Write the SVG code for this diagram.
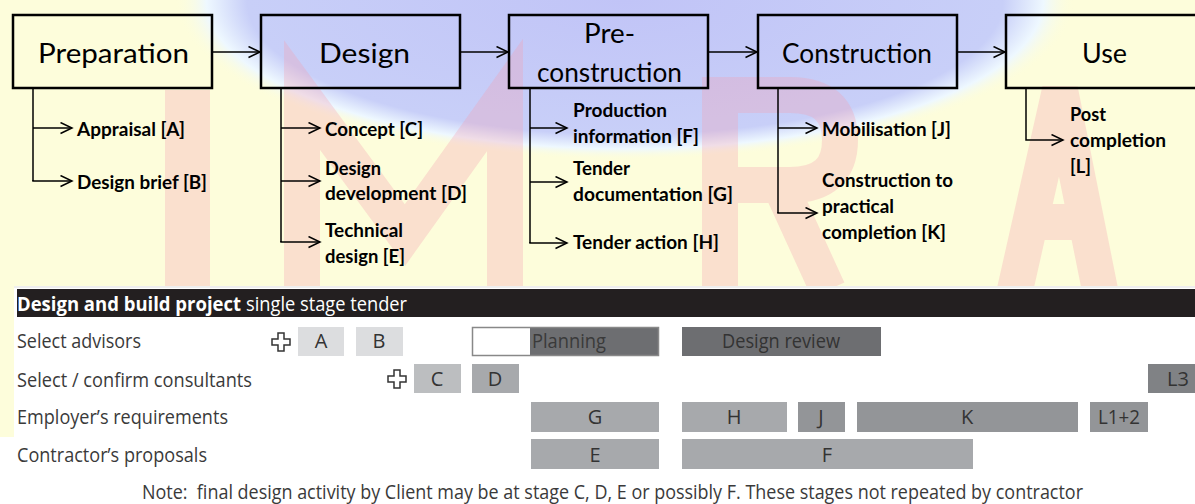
<svg xmlns="http://www.w3.org/2000/svg" width="1195" height="504" viewBox="0 0 1195 504">
<defs>
<radialGradient id="blue" cx="0.5" cy="0.5" r="0.5">
<stop offset="0" stop-color="#c1c4f7"/>
<stop offset="0.84" stop-color="#c8cff8"/>
<stop offset="0.93" stop-color="#eef8ff"/>
<stop offset="1" stop-color="#fdfddb" stop-opacity="0"/>
</radialGradient>
<marker id="ah" markerUnits="userSpaceOnUse" markerWidth="14" markerHeight="14" refX="12" refY="6" orient="auto">
<path d="M0.5,0.5 L12,6 L0.5,11.5" fill="none" stroke="#000" stroke-width="1.5"/>
</marker>
<style>
.stage{fill:none;stroke:#000;stroke-width:2.5}
.title{font-family:Lato,"Open Sans",sans-serif;font-size:27px;fill:#000}
.sub{font-family:Lato,"Open Sans",sans-serif;font-size:18px;font-weight:bold;fill:#000}
.link{fill:none;stroke:#000;stroke-width:1.5}
.arrow{fill:none;stroke:#000;stroke-width:1.5;marker-end:url(#ah)}
.wm{fill:none;stroke:#f4a0b0;stroke-opacity:0.3;stroke-width:36}
.lbl{font-family:"Open Sans","Noto Sans",sans-serif;font-size:20px;fill:#3a3a3a}
.cell{font-family:"Open Sans","Noto Sans",sans-serif;font-size:20px;fill:#333;text-anchor:middle}
.c1{fill:#dcdddf}
.c2{fill:#bcbec0}
.c3{fill:#a7a9ac}
.c4{fill:#939598}
.c5{fill:#6d6e71}
.c6{fill:#808285}
.plus{fill:#fff;stroke:#333;stroke-width:1.5}
</style>
</defs>

<g id="background">
<rect x="0" y="0" width="1195" height="504" fill="#fdfddb"/>
<ellipse cx="625" cy="0" rx="450" ry="160" fill="url(#blue)"/>
<rect x="165" y="90" width="45" height="200" fill="#f4a0b0" fill-opacity="0.3"/>
<path class="wm" d="M302 290 L302 95 L405 235 L505 95 L505 290"/>
<path class="wm" d="M720 290 L720 95 L790 95 Q840 95 840 140 Q840 185 790 185 L720 185 M780 185 L828 290"/>
<path class="wm" d="M1015 290 L1060 90 L1100 290 M1030 222 L1090 222"/>
<rect x="14" y="286" width="1181" height="218" fill="#fff"/>
<rect x="0" y="437" width="14" height="67" fill="#fff"/>
<line x1="14" y1="287" x2="1195" y2="287" stroke="#ddd" stroke-width="1"/>
</g>

<g id="connectors">
<line class="arrow" x1="213" y1="52" x2="260" y2="52"/>
<line class="arrow" x1="461" y1="52" x2="508" y2="52"/>
<line class="arrow" x1="709" y1="52" x2="757" y2="52"/>
<line class="arrow" x1="958" y1="52" x2="1005" y2="52"/>
<path class="link" d="M33 89 L33 181"/>
<line class="arrow" x1="33" y1="128" x2="72" y2="128"/>
<path class="arrow" d="M33 180 L33 181 L72 181"/>
<path class="link" d="M281 89 L281 242"/>
<line class="arrow" x1="281" y1="128" x2="320" y2="128"/>
<line class="arrow" x1="281" y1="181" x2="320" y2="181"/>
<path class="arrow" d="M281 241 L281 242 L320 242"/>
<path class="link" d="M530 89 L530 243"/>
<line class="arrow" x1="530" y1="128" x2="567" y2="128"/>
<line class="arrow" x1="530" y1="182" x2="567" y2="182"/>
<path class="arrow" d="M530 242 L530 243 L567 243"/>
<path class="link" d="M778 89 L778 213"/>
<line class="arrow" x1="778" y1="128" x2="817" y2="128"/>
<path class="arrow" d="M778 212 L778 213 L817 213"/>
<path class="arrow" d="M1026 89 L1026 140 L1063 140"/>
</g>

<g id="preparation">
<rect class="stage" x="13" y="15" width="199" height="73"/>
<text class="title" x="38" y="63" textLength="151" lengthAdjust="spacingAndGlyphs">Preparation</text>
<text class="sub" x="77" y="136" textLength="108" lengthAdjust="spacingAndGlyphs">Appraisal [A]</text>
<text class="sub" x="77" y="189" textLength="130" lengthAdjust="spacingAndGlyphs">Design brief [B]</text>
</g>

<g id="design">
<rect class="stage" x="261" y="15" width="199" height="73"/>
<text class="title" x="319" y="63" textLength="91" lengthAdjust="spacingAndGlyphs">Design</text>
<text class="sub" x="325" y="136" textLength="98" lengthAdjust="spacingAndGlyphs">Concept [C]</text>
<text class="sub" x="325" y="175" textLength="56" lengthAdjust="spacingAndGlyphs">Design</text>
<text class="sub" x="325" y="200" textLength="142" lengthAdjust="spacingAndGlyphs">development [D]</text>
<text class="sub" x="325" y="237" textLength="78" lengthAdjust="spacingAndGlyphs">Technical</text>
<text class="sub" x="325" y="263" textLength="80" lengthAdjust="spacingAndGlyphs">design [E]</text>
</g>

<g id="pre-construction">
<rect class="stage" x="509" y="15" width="199" height="73"/>
<text class="title" x="584" y="43" textLength="51" lengthAdjust="spacingAndGlyphs">Pre-</text>
<text class="title" x="537" y="82" textLength="145" lengthAdjust="spacingAndGlyphs">construction</text>
<text class="sub" x="573" y="117" textLength="94" lengthAdjust="spacingAndGlyphs">Production</text>
<text class="sub" x="573" y="143" textLength="126" lengthAdjust="spacingAndGlyphs">information [F]</text>
<text class="sub" x="573" y="175" textLength="57" lengthAdjust="spacingAndGlyphs">Tender</text>
<text class="sub" x="573" y="201" textLength="160" lengthAdjust="spacingAndGlyphs">documentation [G]</text>
<text class="sub" x="573" y="249" textLength="146" lengthAdjust="spacingAndGlyphs">Tender action [H]</text>
</g>

<g id="construction">
<rect class="stage" x="758" y="15" width="199" height="73"/>
<text class="title" x="782" y="63" textLength="150" lengthAdjust="spacingAndGlyphs">Construction</text>
<text class="sub" x="822" y="136" textLength="129" lengthAdjust="spacingAndGlyphs">Mobilisation [J]</text>
<text class="sub" x="822" y="187" textLength="131" lengthAdjust="spacingAndGlyphs">Construction to</text>
<text class="sub" x="822" y="213" textLength="72" lengthAdjust="spacingAndGlyphs">practical</text>
<text class="sub" x="822" y="239" textLength="124" lengthAdjust="spacingAndGlyphs">completion [K]</text>
</g>

<g id="use">
<rect class="stage" x="1006" y="15" width="200" height="73"/>
<text class="title" x="1082" y="63" textLength="45" lengthAdjust="spacingAndGlyphs">Use</text>
<text class="sub" x="1070" y="121" textLength="36" lengthAdjust="spacingAndGlyphs">Post</text>
<text class="sub" x="1070" y="147" textLength="96" lengthAdjust="spacingAndGlyphs">completion</text>
<text class="sub" x="1070" y="173" textLength="21" lengthAdjust="spacingAndGlyphs">[L]</text>
</g>

<g id="table-header">
<rect x="17" y="289" width="1178" height="28" fill="#231f20"/>
<text x="17" y="311" font-family="'Open Sans','Noto Sans',sans-serif" font-size="20" fill="#fff"><tspan font-weight="bold" textLength="224" lengthAdjust="spacingAndGlyphs">Design and build project</tspan><tspan x="246" textLength="161" lengthAdjust="spacingAndGlyphs">single stage tender</tspan></text>
</g>

<g id="row-select-advisors">
<text class="lbl" x="17" y="348" textLength="124" lengthAdjust="spacingAndGlyphs">Select advisors</text>
<path class="plus" d="M278 333 h6 v6 h6 v6 h-6 v6 h-6 v-6 h-6 v-6 h6 z"/>
<rect class="c1" x="298" y="327" width="46" height="29"/>
<text class="cell" x="321" y="348">A</text>
<rect class="c1" x="356" y="327" width="47" height="29"/>
<text class="cell" x="379" y="348">B</text>
<rect x="472" y="327" width="58" height="29" fill="#fff"/>
<rect class="c5" x="530" y="327" width="129" height="29"/>
<rect x="472.5" y="327.5" width="186" height="28" fill="none" stroke="#888" stroke-width="1.5"/>
<text class="lbl" x="532" y="348" fill="#333" textLength="74" lengthAdjust="spacingAndGlyphs">Planning</text>
<rect class="c5" x="682" y="327" width="199" height="29"/>
<text class="cell" x="781" y="348" textLength="118" lengthAdjust="spacingAndGlyphs">Design review</text>
</g>

<g id="row-select-consultants">
<text class="lbl" x="17" y="387" textLength="235" lengthAdjust="spacingAndGlyphs">Select / confirm consultants</text>
<path class="plus" d="M394 370 h6 v6 h6 v6 h-6 v6 h-6 v-6 h-6 v-6 h6 z"/>
<rect class="c2" x="414" y="364" width="47" height="29"/>
<text class="cell" x="437" y="386">C</text>
<rect class="c3" x="472" y="364" width="47" height="29"/>
<text class="cell" x="495" y="386">D</text>
<rect class="c6" x="1148" y="364" width="60" height="29"/>
<text class="cell" x="1178" y="386">L3</text>
</g>

<g id="row-employers-requirements">
<text class="lbl" x="17" y="424" textLength="211" lengthAdjust="spacingAndGlyphs">Employer’s requirements</text>
<rect class="c3" x="531" y="402" width="128" height="30"/>
<text class="cell" x="595" y="424">G</text>
<rect class="c3" x="682" y="402" width="105" height="30"/>
<text class="cell" x="734" y="424">H</text>
<rect class="c4" x="798" y="402" width="47" height="30"/>
<text class="cell" x="821" y="424">J</text>
<rect class="c4" x="857" y="402" width="221" height="30"/>
<text class="cell" x="967" y="424">K</text>
<rect class="c4" x="1090" y="402" width="58" height="30"/>
<text class="cell" x="1119" y="424" textLength="42" lengthAdjust="spacingAndGlyphs">L1+2</text>
</g>

<g id="row-contractors-proposals">
<text class="lbl" x="17" y="462" textLength="190" lengthAdjust="spacingAndGlyphs">Contractor’s proposals</text>
<rect class="c3" x="531" y="439" width="128" height="30"/>
<text class="cell" x="595" y="462">E</text>
<rect class="c3" x="682" y="439" width="291" height="30"/>
<text class="cell" x="827" y="462">F</text>
</g>

<g id="note">
<text class="lbl" x="142" y="499" textLength="941" lengthAdjust="spacingAndGlyphs" xml:space="preserve">Note:  final design activity by Client may be at stage C, D, E or possibly F. These stages not repeated by contractor</text>
</g>
</svg>
